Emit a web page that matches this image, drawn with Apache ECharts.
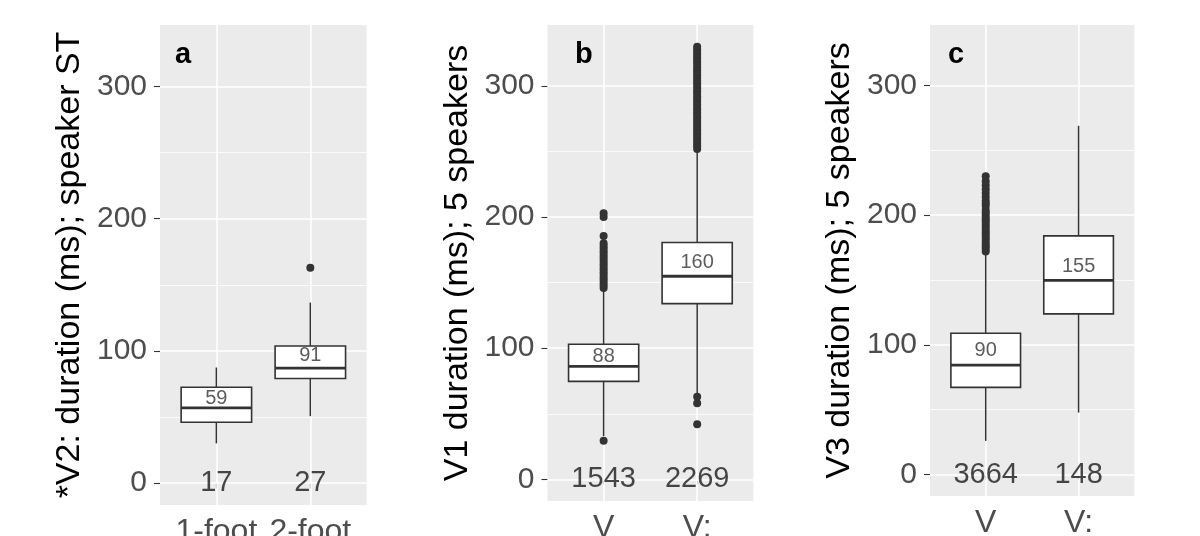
<!DOCTYPE html>
<html>
<head>
<meta charset="utf-8">
<script src="https://cdn.jsdelivr.net/npm/echarts@6/dist/echarts.min.js"></script>
<style>
html, body { margin: 0; background: #fff; }
#main { width: 1200px; height: 536px; }
</style>
</head>
<body>
<div id="main"></div>
<script>
'use strict';

// panel a: V2, speaker ST
var catsA = ['1-foot', '2-foot'];
var boxA = [[30.1, 46.1, 57.0, 72.5, 87.5], [50.7, 79.2, 87.0, 103.8, 136.6]];
var meanA = [59, 91];
var countA = [17, 27];
var outA = [[], [163]];

// panel b: V1, 5 speakers
var catsB = ['V', 'V:'];
var boxB = [[33, 74.7, 86.1, 103.0, 145], [65.5, 134.0, 154.9, 180.6, 250]];
var meanB = [88, 160];
var countB = [1543, 2269];
var outB = [
    [29.5, 146, 148, 150, 152, 154, 156, 158, 160, 162, 164, 166, 168, 170, 172, 174, 176, 178, 180, 185.5, 200, 203],
    [42, 58, 63, 252, 254, 256, 258, 260, 262, 264, 266, 268, 270, 272, 274, 276, 278, 280, 282, 284, 286, 288, 290,
        292, 294, 296, 298, 300, 302, 304, 306, 308, 310, 312, 314, 316, 318, 320, 322, 324, 326, 328, 330]
];

// panel c: V3, 5 speakers
var catsC = ['V', 'V:'];
var boxC = [[26, 67.2, 84.4, 108.9, 171], [47.8, 123.9, 149.7, 184.0, 268.8]];
var meanC = [90, 155];
var countC = [3664, 148];
var outC = [
    [172, 174, 176, 178, 180, 182, 184, 186, 188, 190, 192, 194, 196, 198, 200, 202, 204, 207, 209, 211, 214, 217,
        220, 223, 226, 230],
    []
];

var panelLetters = ['a', 'b', 'c'];
var yTitles = ['*V2: duration (ms); speaker ST', 'V1 duration (ms); 5 speakers', 'V3 duration (ms); 5 speakers'];
var yTicks = [0, 100, 200, 300];
var yMinor = [50, 150, 250];
var yRange = [-16.5, 346.5];
var xRange = [0.4, 2.6];

var FONT = '"Liberation Sans", Arial, Helvetica, sans-serif';

var panels = [
    { cats: catsA, box: boxA, mean: meanA, count: countA, out: outA, left: 160, width: 206.7, height: 480, letterX: 175 },
    { cats: catsB, box: boxB, mean: meanB, count: countB, out: outB, left: 547.5, width: 205.8, height: 476, letterX: 575 },
    { cats: catsC, box: boxC, mean: meanC, count: countC, out: outC, left: 930, width: 204.3, height: 471, letterX: 948 }
];

// ggplot-like box: no whisker caps, thick median
function renderBox(params, api) {
    var x = api.value(0);
    var lo = api.coord([x, api.value(1)]);
    var q1 = api.coord([x, api.value(2)]);
    var md = api.coord([x, api.value(3)]);
    var q3 = api.coord([x, api.value(4)]);
    var hi = api.coord([x, api.value(5)]);
    var w = api.size([0.75, 0])[0];
    var edge = { stroke: '#333333', lineWidth: 1.5, fill: null };
    return {
        type: 'group',
        children: [
            { type: 'line', shape: { x1: lo[0], y1: lo[1], x2: q1[0], y2: q1[1] }, style: edge },
            { type: 'line', shape: { x1: q3[0], y1: q3[1], x2: hi[0], y2: hi[1] }, style: edge },
            { type: 'rect', shape: { x: q3[0] - w / 2, y: q3[1], width: w, height: q1[1] - q3[1] },
                style: { fill: '#ffffff', stroke: '#333333', lineWidth: 1.6 } },
            { type: 'line', shape: { x1: md[0] - w / 2, y1: md[1], x2: md[0] + w / 2, y2: md[1] },
                style: { stroke: '#333333', lineWidth: 2.8 } }
        ]
    };
}

var grids = [], xAxes = [], yAxes = [], series = [], graphics = [];

panels.forEach(function(p, i) {
    grids.push({
        left: p.left, top: 25, width: p.width, height: p.height,
        outerBoundsMode: 'none', containLabel: false,
        show: true, backgroundColor: '#EBEBEB', borderWidth: 0
    });

    xAxes.push({
        gridIndex: i, type: 'value', min: xRange[0], max: xRange[1],
        axisLine: { show: false },
        splitLine: { show: false },
        axisTick: { show: true, customValues: [1, 2], length: 5, lineStyle: { color: '#333333', width: 1.1 } },
        axisLabel: {
            customValues: [1, 2], margin: 11, fontSize: 32, color: '#4D4D4D', fontFamily: FONT,
            formatter: function(v) { return p.cats[Math.round(v) - 1]; }
        }
    });

    yAxes.push({
        gridIndex: i, type: 'value', min: yRange[0], max: yRange[1],
        name: yTitles[i], nameLocation: 'middle', nameRotate: 90, nameGap: 73,
        nameTextStyle: { fontSize: 34, color: '#000000', fontFamily: FONT },
        axisLine: { show: false },
        splitLine: { show: false },
        axisTick: { show: true, customValues: yTicks, length: 6, lineStyle: { color: '#333333', width: 1.1 } },
        axisLabel: { customValues: yTicks, margin: 13, fontSize: 30, color: '#4D4D4D', fontFamily: FONT }
    });

    // panel grid lines
    var lines = [];
    yTicks.forEach(function(v) { lines.push({ yAxis: v, lineStyle: { width: 1.6 } }); });
    yMinor.forEach(function(v) { lines.push({ yAxis: v, lineStyle: { width: 0.8 } }); });
    [1, 2].forEach(function(v) { lines.push({ xAxis: v, lineStyle: { width: 1.6 } }); });
    series.push({
        type: 'line', xAxisIndex: i, yAxisIndex: i, data: [], silent: true, z: 1,
        markLine: {
            silent: true, symbol: 'none', z: 1, animation: false,
            label: { show: false },
            lineStyle: { color: '#ffffff', type: 'solid' },
            data: lines
        }
    });

    series.push({
        type: 'custom', xAxisIndex: i, yAxisIndex: i, silent: true, z: 3,
        renderItem: renderBox,
        encode: { x: 0, y: [1, 2, 3, 4, 5] },
        data: p.box.map(function(b, j) { return [j + 1].concat(b); })
    });

    var outPts = [];
    p.out.forEach(function(list, j) {
        list.forEach(function(v) { outPts.push([j + 1, v]); });
    });
    series.push({
        type: 'scatter', xAxisIndex: i, yAxisIndex: i, silent: true, z: 4,
        symbolSize: 8, itemStyle: { color: '#333333', opacity: 1 },
        data: outPts
    });

    series.push({
        type: 'scatter', xAxisIndex: i, yAxisIndex: i, silent: true, z: 5,
        symbolSize: 0,
        label: {
            show: true, position: 'top', distance: 0, offset: [0, 3],
            fontSize: 20, color: '#333333', fontFamily: FONT,
            formatter: function(d) { return d.value[2]; }
        },
        data: p.mean.map(function(m, j) { return [j + 1, m, m]; })
    });

    series.push({
        type: 'scatter', xAxisIndex: i, yAxisIndex: i, silent: true, z: 5,
        symbolSize: 0,
        label: {
            show: true, position: 'inside',
            fontSize: 29, color: '#1A1A1A', fontFamily: FONT,
            formatter: function(d) { return d.value[2]; }
        },
        data: p.count.map(function(c, j) { return [j + 1, 0, c]; })
    });

    graphics.push({
        type: 'text', left: p.letterX, top: 40, silent: true, z: 10,
        style: { text: panelLetters[i], fontSize: 29, fontWeight: 'bold', fill: '#000000', fontFamily: FONT }
    });
});

var myChart = echarts.init(document.getElementById('main'));
myChart.setOption({
    animation: false,
    backgroundColor: '#ffffff',
    grid: grids,
    xAxis: xAxes,
    yAxis: yAxes,
    series: series,
    graphic: graphics
});
</script>
</body>
</html>
